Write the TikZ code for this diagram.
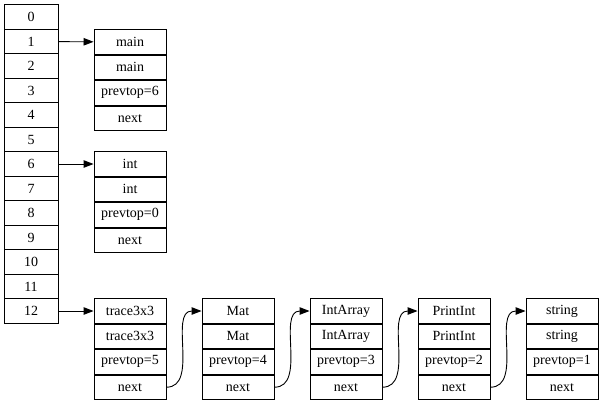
\documentclass[tikz,border=0pt]{standalone}
\usepackage{fontspec}
\setmainfont{Liberation Serif}
\usetikzlibrary{arrows.meta, positioning}

\begin{document}
\begin{tikzpicture}[
    x=1pt, y=1pt,
    cell/.style={draw, line width=0.9pt, minimum height=24.5pt, inner sep=0pt, align=center, font=\fontsize{14}{16}\selectfont},
    stackcell/.style={cell, minimum width=54pt},
    rec/.style={cell, minimum width=72pt},
    arrow/.style={-{Triangle[length=10pt,width=7.5pt]}, line width=0.9pt}
]
\useasboundingbox (0,0) rectangle (603,-400);

% stack slots
\foreach \i in {0,...,12}
  \node[stackcell] (s\i) at (31,{-17-24.5*\i}) {\i};

% frame records
\foreach \rid/\txt/\p/\x/\y in {f1/main/6/130/42, f2/int/0/130/164, f3/trace3x3/5/130/311,
    f4/Mat/4/238/311, f5/IntArray/3/346/311, f6/PrintInt/2/454/311, f7/string/1/562/311} {
  \node[rec] (\rid a) at (\x,-\y) {\txt};
  \node[rec, below=0pt of \rid a] (\rid b) {\txt};
  \node[rec, below=0pt of \rid b] (\rid c) {prevtop=\p};
  \node[rec, below=0pt of \rid c] (\rid d) {next};
}

\draw[arrow] (s1) -- (f1a);
\draw[arrow] (s6) -- (f2a);
\draw[arrow] (s12) -- (f3a);

\draw[arrow] (f3d.east) to[out=0, in=180] (f4a.west);
\draw[arrow] (f4d.east) to[out=0, in=180] (f5a.west);
\draw[arrow] (f5d.east) to[out=0, in=180] (f6a.west);
\draw[arrow] (f6d.east) to[out=0, in=180] (f7a.west);

\end{tikzpicture}
\end{document}
